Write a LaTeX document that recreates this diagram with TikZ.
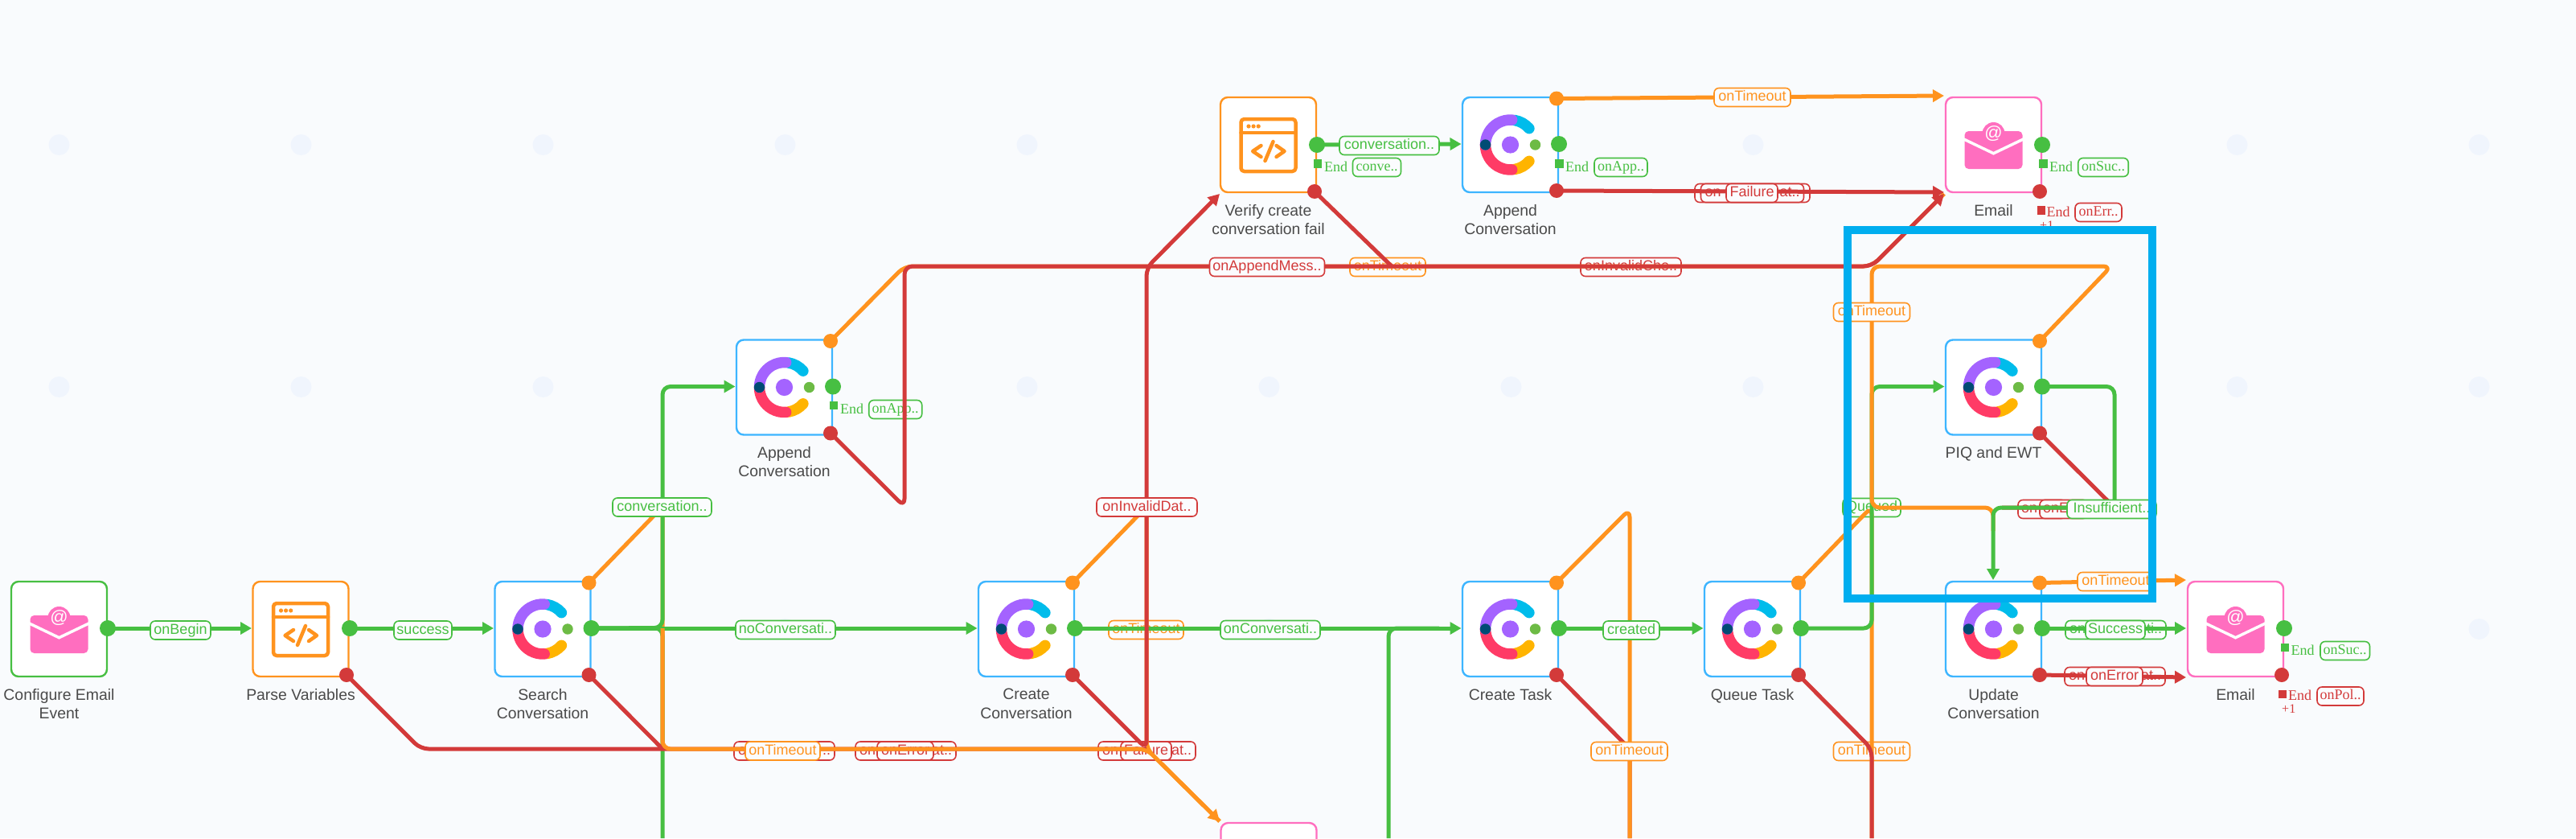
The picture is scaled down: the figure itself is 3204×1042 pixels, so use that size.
\documentclass[tikz,border=0pt]{standalone}
\usepackage{fontspec}
\setmainfont{Liberation Sans}
\newfontfamily\serifl{Liberation Serif}
\usetikzlibrary{arrows.meta,calc}
\definecolor{pagebg}{HTML}{F9FBFD}
\definecolor{griddot}{HTML}{F0F5FD}
\definecolor{labbg}{HTML}{FBFCFE}
\definecolor{gr}{HTML}{47BF42}
\definecolor{og}{HTML}{FF931E}
\definecolor{rd}{HTML}{D33A3A}
\definecolor{bl}{HTML}{3DB5FF}
\definecolor{pk}{HTML}{FF6EBF}
\definecolor{hl}{HTML}{00AEEF}
\definecolor{txtc}{HTML}{4A4A4A}
\definecolor{cpur}{HTML}{A463FF}
\definecolor{cblu}{HTML}{00BCEB}
\definecolor{cred}{HTML}{FF3B66}
\definecolor{cyel}{HTML}{FFB400}
\definecolor{cdrk}{HTML}{004B74}
\definecolor{cgrn}{HTML}{6DBB45}
\tikzset{
  box/.style={draw=#1,fill=white,rounded corners=9pt,line width=2.4pt,minimum width=119pt,minimum height=118pt,inner sep=0pt},
  port/.style={circle,fill=#1,inner sep=0pt,minimum size=18pt},
  gport/.style={circle,fill=gr,inner sep=0pt,minimum size=20pt},
  nlabel/.style={text=txtc,align=center,inner sep=0pt,anchor=north,font=\fontsize{19.4}{23.3}\selectfont},
  lab/.style={draw=#1,text=#1,fill=labbg,rounded corners=6pt,line width=1.6pt,inner sep=0pt,minimum height=23pt,text height=13pt,text depth=4pt,font=\fontsize{18}{20}\selectfont},
  slab/.style={draw=#1,text=#1,fill=labbg,rounded corners=6pt,line width=1.6pt,inner sep=0pt,minimum height=23pt,text height=12pt,text depth=4pt,font=\serifl\fontsize{18}{20}\selectfont},
  endsq/.style={fill=#1,inner sep=0pt,minimum size=10.5pt},
  endtx/.style={text=#1,inner sep=0pt,anchor=west,text height=12pt,text depth=2pt,font=\serifl\fontsize{18}{20}\selectfont},
  eg/.style={draw=gr,line width=5pt,rounded corners=10pt,line join=round,-{Triangle[length=14pt,width=15pt]}},
  eo/.style={draw=og,line width=5pt,rounded corners=10pt,line join=round,-{Triangle[length=14pt,width=15pt]}},
  er/.style={draw=rd,line width=5pt,rounded corners=10pt,line join=round,-{Triangle[length=14pt,width=15pt]}},
  egn/.style={draw=gr,line width=5pt,rounded corners=10pt,line join=round},
  eon/.style={draw=og,line width=5pt,rounded corners=10pt,line join=round},
  ern/.style={draw=rd,line width=5pt,rounded corners=10pt,line join=round}
}
% ring logo
\newcommand{\ringicon}[2]{%
  \begin{scope}[shift={(#1,#2)},x=1pt,y=1pt]
    \draw[cblu,line width=13.5pt,line cap=round] (80:31) arc (80:41:31pt);
    \draw[cyel,line width=13.5pt,line cap=round] (-80:31) arc (-80:-41:31pt);
    \draw[cred,line width=13.5pt,line cap=round] (180:31) arc (180:274:31pt);
    \draw[cpur,line width=13.5pt,line cap=round] (180:31) arc (180:86:31pt);
    \fill[cdrk] (-31,0) circle (6.7pt);
    \fill[cgrn] (31,0) circle (6.7pt);
    \fill[cpur] (0,0) circle (10.6pt);
  \end{scope}}
% envelope
\newcommand{\mailicon}[3]{%
  \begin{scope}[shift={(#1,#2)}]
    \fill[pk] (0,-14) circle (14pt);
    \fill[pk,rounded corners=5pt] (-36,-17) rectangle (36,30);
    \draw[white,line width=3.5pt] (-37,-7) -- (0,10.7) -- (37,-7);
    \fill[pk] (0,-14) circle (11pt);
    \node[text=white,inner sep=0pt,font=\fontsize{22}{22}\selectfont] (#3) at (0,-14) {@};
  \end{scope}}
% code window
\newcommand{\codeicon}[2]{%
  \begin{scope}[shift={(#1,#2)},line width=4.5pt,og,line cap=round,line join=round]
    \draw[rounded corners=4pt] (-34,-32) rectangle (34,33);
    \draw (-34,-15) -- (34,-15);
    \fill (-24.5,-23) circle (2.6pt) (-18.4,-23) circle (2.6pt) (-12.3,-23) circle (2.6pt);
    \draw (-9,1) -- (-19.4,8) -- (-9,15);
    \draw (6,-4) -- (-4,20);
    \draw (10,1) -- (20,8) -- (10,15);
  \end{scope}}
% #1 name, #2 cx, #3 cy, #4 colour
\newcommand{\flowbox}[4]{%
  \node[box=#4] (#1) at (#2,#3) {};
  \coordinate (#1-i) at ($(#2,#3)+(-61,-1)$);
  \node[gport] (#1-g) at ($(#2,#3)+(60.5,-1)$) {};
  \node[port=og] (#1-o) at ($(#2,#3)+(57.5,-57.5)$) {};
  \node[port=rd] (#1-r) at ($(#2,#3)+(57.5,57)$) {};
}
\newcommand{\stoptag}[9]{% name colour sqx sqy endx labcx laby labw text
  \node[endsq=#2] (#1-s) at (#3,#4) {};
  \node[endtx=#2] (#1-e) at (#5,#7) {End};
  \node[slab=#2,minimum width=#8pt] (#1-l) at (#6,#7) {#9};
}
\begin{document}
\begin{tikzpicture}[x=1pt,y=-1pt]
\path[use as bounding box] (0,0) rectangle (3204,1042);
\clip (0,0) rectangle (3204,1042);
\fill[pagebg] (0,0) rectangle (3204,1042);
\foreach \gx in {73.5,374.5,675.5,976.5,1277.5,1578.5,1879.5,2180.5,2481.5,2782.5,3083.5}
  \foreach \gy in {180,481,782}
    \fill[griddot] (\gx,\gy) circle (13pt);

% boxes
\node[box=gr] (cfg) at (73.5,782) {};
\coordinate (cfg-g) at (134,781);
\node[gport] (cfgport) at (cfg-g) {};
\node[box=og] (par) at (374,782) {};
\coordinate (par-i) at (313,781);
\node[gport] (par-g) at (435,781) {};
\node[port=rd] (par-r) at (431,839) {};
\flowbox{sch}{675}{782}{bl}
\flowbox{crt}{1276.5}{782}{bl}
\flowbox{app}{975.5}{481.5}{bl}
\node[box=og] (ver) at (1577.5,180) {};
\coordinate (ver-i) at (1517,241);
\node[gport] (ver-g) at (1638,180) {};
\node[port=rd] (ver-r) at (1635,238) {};
\flowbox{ap2}{1878.5}{180}{bl}
\node[box=pk] (em1) at (2479.5,180) {};
\coordinate (em1-a) at (2418,119);
\coordinate (em1-b) at (2418,239);
\coordinate (em1-c) at (2418,241);
\node[gport] (em1-g) at (2540,180) {};
\node[port=rd] (em1-r) at (2537,238) {};
\flowbox{piq}{2479.5}{481.5}{bl}
\flowbox{tsk}{1878.5}{782}{bl}
\flowbox{que}{2179.5}{782}{bl}
\flowbox{upd}{2479.5}{782}{bl}
\coordinate (upd-t) at (2479,721);
\node[box=pk] (em2) at (2780.5,782) {};
\coordinate (em2-a) at (2719,721);
\coordinate (em2-b) at (2719,781);
\coordinate (em2-c) at (2719,842);
\node[gport] (em2-g) at (2841,781) {};
\node[port=rd] (em2-r) at (2838,839) {};
\node[box=pk] (em3) at (1578,1082) {};
\coordinate (em3-a) at (1517,1021);

% icons
\mailicon{73.5}{782}{at1}
\codeicon{374}{782}
\ringicon{675}{782}
\ringicon{1276.5}{782}
\ringicon{975.5}{481.5}
\codeicon{1577.5}{180}
\ringicon{1878.5}{180}
\mailicon{2479.5}{180}{at2}
\ringicon{2479.5}{481.5}
\ringicon{1878.5}{782}
\ringicon{2179.5}{782}
\ringicon{2479.5}{782}
\mailicon{2780.5}{782}{at3}

% node captions
\node[nlabel] (t1) at (73.5,856) {Configure Email\\Event};
\node[nlabel] (t2) at (374,856) {Parse Variables};
\node[nlabel] (t3) at (675,856) {Search\\Conversation};
\node[nlabel] (t4) at (1276.5,856) {Create\\Conversation};
\node[nlabel] (t5) at (975.5,555) {Append\\Conversation};
\node[nlabel] (t6) at (1577.5,254) {Verify create\\conversation fail};
\node[nlabel] (t7) at (1878.5,254) {Append\\Conversation};
\node[nlabel] (t8) at (2479.5,254) {Email};
\node[nlabel] (t9) at (2479.5,555) {PIQ and EWT};
\node[nlabel] (t10) at (1878.5,856) {Create Task};
\node[nlabel] (t11) at (2179.5,856) {Queue Task};
\node[nlabel] (t12) at (2479.5,856) {Update\\Conversation};
\node[nlabel] (t13) at (2780.5,856) {Email};

% labels that lie under the lines
\node[lab=og,minimum width=93pt] (lb1) at (1425.5,783) {onTimeout};
\node[lab=og,minimum width=94pt] (lb2) at (1726,332) {onTimeout};
\node[lab=rd,minimum width=125pt] (lb3) at (2028.5,332) {onInvalidCho..};
\node[lab=rd,minimum width=143pt] (lb4) at (2179.5,240) {\makebox[132pt]{on\hfill at..}};
\node[lab=rd,minimum width=128pt] (lb4b) at (2179.5,240) {\makebox[118pt]{on\hfill at..}};
\node[lab=rd,minimum width=125pt] (lb5) at (975.5,933.5) {\makebox[115pt]{o\hfill ..}};
\node[lab=rd,minimum width=125pt] (lb6) at (1126.5,933.5) {\makebox[115pt]{on\hfill at..}};
\node[lab=rd,minimum width=70pt] (lb6b) at (1126,933.5) {onError};
\node[lab=rd,minimum width=121pt] (lb7) at (1426.5,933.5) {\makebox[111pt]{on\hfill at..}};
\node[lab=rd,minimum width=63pt] (lb7b) at (1425.5,933.5) {Failure};
\node[lab=og,minimum width=95pt] (lb8) at (2328,934) {onTimeout};
\node[lab=gr,minimum width=72pt] (lb9) at (2328,631) {Queued};
\node[lab=rd,minimum width=125pt] (lb10) at (2630.5,841) {\makebox[115pt]{on\hfill at..}};
\node[lab=gr,minimum width=125pt] (lb11) at (2631.5,783) {\makebox[115pt]{on\hfill ti..}};
\node[lab=rd,minimum width=60pt] (lb12) at (2540,633) {\makebox[52pt][l]{on}};
\node[lab=rd,minimum width=60pt] (lb13) at (2567,633) {\makebox[52pt][l]{onE}};
\stoptag{etapp}{gr}{1037}{504}{1045}{1113.7}{509}{66}{onApp..}

% orange, first group
\draw[eon] (sch-o.center) -- (824,630) -- (824,931);
\draw[eon] (crt-o.center) -- (1426,630) -- (1426,931) -- (em3-a);
\draw[eon] (app-o.center) -- (1125,331) -- (2328,331) -- (em1-c);
\draw[eon] (que-o.center) -- (2328,630) -- (2328,1042);
\draw[eo] (ap2-o.center) -- (em1-a);
\draw[eo] (upd-o.center) -- (em2-a);

% green, first group
\draw[eg] (cfg-g) -- (par-i);
\draw[eg] (par-g.center) -- (sch-i);
\draw[eg] (sch-g.center) -- (crt-i);
\draw[eg] (sch-g.center) -- (824,780.5) -- (824,480.5) -- (app-i);
\draw[egn] (sch-g.center) -- (824,780.5) -- (824,1042);
\draw[eg] (crt-g.center) -- (tsk-i);
\draw[egn] (1727,1042) -- (1727,781) -- (1790,781);
\draw[eg] (tsk-g.center) -- (que-i);
\draw[eg] (que-g.center) -- (2328,781) -- (2328,480.5) -- (piq-i);
\draw[eg] (ver-g.center) -- (ap2-i);
\draw[eg] (upd-g.center) -- (em2-b);

% red
\draw[ern] (par-r.center) -- (523,931) -- (1426,931);
\draw[ern] (sch-r.center) -- (824,931);
\draw[er] (crt-r.center) -- (1426,931) -- (1426,333) -- (ver-i);
\draw[er] (app-r.center) -- (1125,630) -- (1125,331) -- (2328,331) -- (em1-c);
\draw[ern] (ver-r.center) -- (1731,331);
\draw[er] (ap2-r.center) -- (em1-b);
\draw[ern] (tsk-r.center) -- (2027,931) -- (2027,1042);
\draw[ern] (que-r.center) -- (2328,931) -- (2328,1042);
\draw[ern] (piq-r.center) -- (2630,631) -- (2490,631);
\draw[er] (upd-r.center) -- (em2-c);

% orange, second group
\draw[eo] (824,781) -- (824,931) -- (1426,931) -- (em3-a);
\draw[eon] (tsk-o.center) -- (2027,633) -- (2027,1042);
\draw[eon] (piq-o.center) -- (2626,331) -- (2328,331) -- (2328,631) -- (2479,631) -- (2479,660);

% green, second group
\draw[eg] (piq-g.center) -- (2630,480.5) -- (2630,631) -- (2479,631) -- (upd-t);

% labels on top
\node[lab=gr,minimum width=75pt] (l1) at (224.5,783.5) {onBegin};
\node[lab=gr,minimum width=72pt] (l2) at (526,783.5) {success};
\node[lab=gr,minimum width=123pt] (l3) at (823.5,630.5) {conversation..};
\node[lab=gr,minimum width=124pt] (l4) at (977,783) {noConversati..};
\node[lab=gr,minimum width=124pt] (l5) at (1580,783) {onConversati..};
\node[lab=rd,minimum width=125pt] (l6) at (1426.5,630.5) {onInvalidDat..};
\node[lab=gr,minimum width=70pt] (l7) at (2029,783.5) {created};
\node[lab=og,minimum width=95pt] (l8) at (2026.5,934) {onTimeout};
\node[lab=og,minimum width=93pt] (l9) at (973.5,933.5) {onTimeout};
\node[lab=rd,minimum width=143pt] (l10) at (1576,332) {onAppendMess..};
\node[lab=gr,minimum width=124pt] (l11) at (1728,181) {conversation..};
\node[lab=og,minimum width=95pt] (l12) at (2179.5,121) {onTimeout};
\node[lab=rd,minimum width=64pt] (l13) at (2179,240) {Failure};
\node[lab=og,minimum width=95pt] (l14) at (2328,388) {onTimeout};
\node[lab=gr,minimum width=111pt] (l15) at (2626.5,633) {Insufficient..};
\node[lab=og,minimum width=95pt] (l16) at (2631.5,723) {onTimeout};
\node[lab=gr,minimum width=74pt] (l17) at (2631,783) {Success};
\node[lab=rd,minimum width=70pt] (l18) at (2630,841) {onError};

% end tags
\stoptag{etver}{gr}{1639}{203.5}{1647}{1712.5}{208}{60}{conve..}
\stoptag{etap2}{gr}{1939.5}{203.5}{1947}{2016}{208}{66}{onApp..}
\stoptag{etem1}{gr}{2541.5}{203.5}{2549}{2616}{208}{62.5}{onSuc..}
\stoptag{etem1r}{rd}{2539}{261.5}{2545.5}{2610}{264}{58}{onErr..}
\node[endtx=rd,font=\serifl\fontsize{16}{18}\selectfont] (p1) at (2537,280) {+1};
\stoptag{etem2}{gr}{2842}{805}{2849.5}{2916.7}{809}{61.5}{onSuc..}
\stoptag{etem2r}{rd}{2839}{863}{2846}{2911}{865.5}{58}{onPol..}
\node[endtx=rd,font=\serifl\fontsize{16}{18}\selectfont] (p2) at (2838,881) {+1};

% highlight
\draw[hl,line width=10pt] (2298,286) rectangle (2677,744);
\end{tikzpicture}
\end{document}
